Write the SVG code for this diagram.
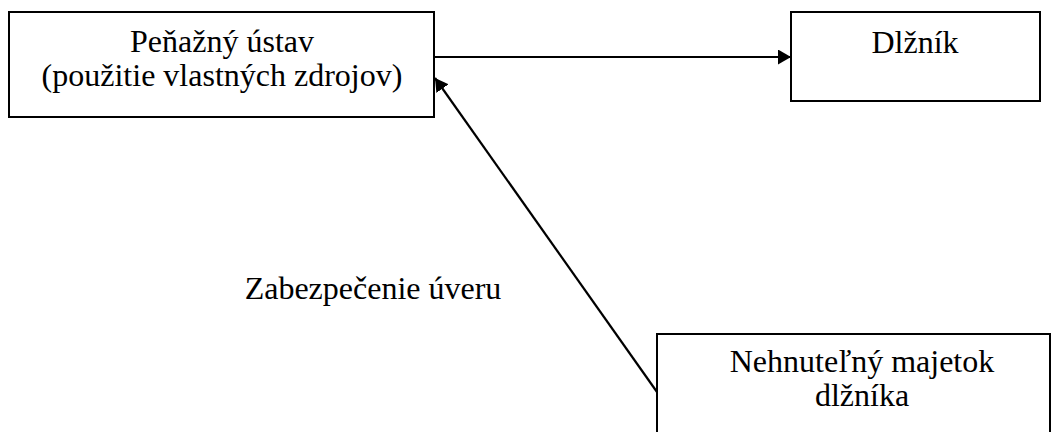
<svg xmlns="http://www.w3.org/2000/svg" width="1052" height="432" viewBox="0 0 1052 432">
<style>
.box{fill:#fff;stroke:#000;stroke-width:2}
.t{font-family:'Liberation Serif','DejaVu Serif',serif;font-size:32px;fill:#000;text-anchor:middle}
.c{stroke:#000;stroke-width:2.2;fill:none}
</style>
<defs>
<marker id="ah" viewBox="0 0 13 15" refX="13" refY="7.5" markerWidth="13" markerHeight="15" orient="auto" markerUnits="userSpaceOnUse">
<path d="M0,0 L13,7.5 L0,15 z" fill="#000"/>
</marker>
</defs>
<g id="n1"><rect class="box" x="9" y="12" width="425" height="105"/>
<text class="t" x="222" y="52">Peňažný ústav</text>
<text class="t" x="222" y="86">(použitie vlastných zdrojov)</text></g>
<g id="n2"><rect class="box" x="791" y="12" width="249" height="89"/>
<text class="t" x="915" y="53">Dlžník</text></g>
<g id="n3"><rect class="box" x="657" y="334" width="393" height="110"/>
<text class="t" x="862" y="372">Nehnuteľný majetok</text>
<text class="t" x="862" y="406">dlžníka</text></g>
<g id="connectors">
<line class="c" x1="434" y1="57" x2="791" y2="57" marker-end="url(#ah)"/>
<line class="c" x1="657" y1="392" x2="435" y2="78" marker-end="url(#ah)"/>
</g>
<text class="t" x="373" y="299">Zabezpečenie úveru</text>
</svg>
